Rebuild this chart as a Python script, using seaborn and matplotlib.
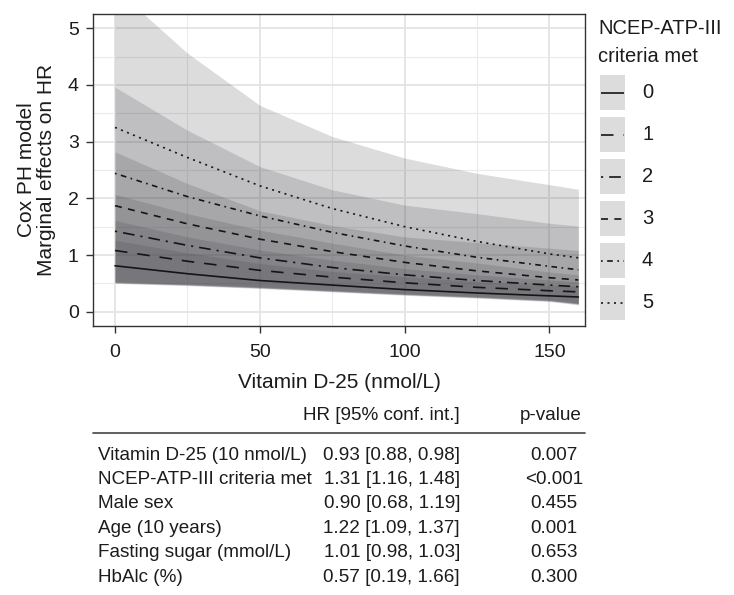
import numpy as np
import pandas as pd
import matplotlib
matplotlib.use("Agg")
import matplotlib.pyplot as plt
from matplotlib.ticker import MultipleLocator
from matplotlib.patches import Rectangle
import seaborn as sns

# ---------------- data ----------------
vitd = [0, 25, 50, 75, 100, 125, 150, 160]
groups = ["0", "1", "2", "3", "4", "5"]

hr_0 = [0.81, 0.67, 0.55, 0.47, 0.39, 0.33, 0.28, 0.26]
hr_1 = [1.08, 0.89, 0.73, 0.61, 0.51, 0.43, 0.37, 0.35]
hr_2 = [1.42, 1.17, 0.95, 0.78, 0.65, 0.55, 0.47, 0.44]
hr_3 = [1.87, 1.55, 1.28, 1.06, 0.87, 0.72, 0.60, 0.56]
hr_4 = [2.44, 2.03, 1.69, 1.40, 1.16, 0.96, 0.80, 0.74]
hr_5 = [3.25, 2.72, 2.22, 1.82, 1.50, 1.24, 1.02, 0.95]

up_0 = [1.26, 1.04, 0.85, 0.71, 0.62, 0.53, 0.47, 0.45]
up_1 = [1.61, 1.32, 1.09, 0.91, 0.76, 0.65, 0.56, 0.53]
up_2 = [2.07, 1.73, 1.44, 1.21, 1.00, 0.86, 0.70, 0.65]
up_3 = [2.82, 2.26, 1.78, 1.52, 1.32, 1.22, 1.12, 1.08]
up_4 = [3.96, 3.20, 2.56, 2.15, 1.88, 1.73, 1.56, 1.51]
up_5 = [5.70, 4.56, 3.64, 3.09, 2.71, 2.44, 2.24, 2.16]

lo_0 = [0.50, 0.46, 0.41, 0.35, 0.29, 0.24, 0.18, 0.12]
lo_1 = [0.51, 0.47, 0.42, 0.36, 0.30, 0.25, 0.19, 0.13]
lo_2 = [0.51, 0.47, 0.42, 0.36, 0.30, 0.25, 0.19, 0.14]
lo_3 = [0.52, 0.48, 0.43, 0.37, 0.31, 0.26, 0.20, 0.14]
lo_4 = [0.52, 0.48, 0.43, 0.37, 0.31, 0.26, 0.20, 0.15]
lo_5 = [0.53, 0.49, 0.44, 0.38, 0.32, 0.27, 0.21, 0.15]

x_ticks = [0, 50, 100, 150]
y_ticks = [0, 1, 2, 3, 4, 5]
x_label = "Vitamin D-25 (nmol/L)"
y_label_1 = "Cox PH model"
y_label_2 = "Marginal effects on HR"
legend_title_1 = "NCEP-ATP-III"
legend_title_2 = "criteria met"

table_header_hr = "HR [95% conf. int.]"
table_header_p = "p-value"
table_labels = ["Vitamin D-25 (10 nmol/L)", "NCEP-ATP-III criteria met", "Male sex",
                "Age (10 years)", "Fasting sugar (mmol/L)", "HbAlc (%)"]
table_hr = ["0.93 [0.88, 0.98]", "1.31 [1.16, 1.48]", "0.90 [0.68, 1.19]",
            "1.22 [1.09, 1.37]", "1.01 [0.98, 1.03]", "0.57 [0.19, 1.66]"]
table_p = ["0.007", "<0.001", "0.455", "0.001", "0.653", "0.300"]

hr_all = [hr_0, hr_1, hr_2, hr_3, hr_4, hr_5]
up_all = [up_0, up_1, up_2, up_3, up_4, up_5]
lo_all = [lo_0, lo_1, lo_2, lo_3, lo_4, lo_5]

# ---------------- style ----------------
sns.set_theme(style="white")
plt.rcParams["font.family"] = ["Liberation Sans", "DejaVu Sans"]

W, H = 734, 595
fig = plt.figure(figsize=(W / 100, H / 100), dpi=100)
fig.patch.set_facecolor("white")


def fx(px):
    return px / W


def fy(py):
    return 1 - py / H


ax_l, ax_r, ax_t, ax_b = 93.3, 585.0, 14.0, 325.9
ax = fig.add_axes([fx(ax_l), fy(ax_b), (ax_r - ax_l) / W, (ax_b - ax_t) / H])

fill_col = "#3e3e44"
line_col = "#151515"
band_alpha = 0.18
text_col = "#1c1c1c"

for lo, up in zip(lo_all, up_all):
    ax.fill_between(vitd, lo, up, color=fill_col, alpha=band_alpha, lw=0, zorder=2)

df = pd.DataFrame({
    "vitd": np.tile(vitd, len(groups)),
    "hr": np.concatenate([np.asarray(h) for h in hr_all]),
    "group": np.repeat(groups, len(vitd)),
})
lw = 1.2
dash_map = {"0": "", "1": (7.5, 6.0), "2": (1.3, 3.6, 7.0, 3.6), "3": (4.2, 3.8),
            "4": (1.0, 2.7, 3.4, 2.7), "5": (1.2, 2.7)}
sns.lineplot(data=df, x="vitd", y="hr", style="group", style_order=groups,
             dashes=dash_map, color=line_col, lw=lw, legend=False,
             errorbar=None, ax=ax, zorder=3)

ax.set_xlim(-7.5, 162.3)
ax.set_ylim(-0.25, 5.25)
ax.set_xticks(x_ticks)
ax.set_yticks(y_ticks)
ax.xaxis.set_minor_locator(MultipleLocator(25))
ax.yaxis.set_minor_locator(MultipleLocator(0.5))
ax.grid(which="major", color="#E4E4E4", lw=1.3)
ax.grid(which="minor", color="#EBEBEB", lw=0.8)
ax.set_axisbelow(True)
ax.tick_params(which="major", direction="out", length=5, width=1.0, color="#333333",
               labelsize=14, labelcolor=text_col, bottom=True, left=True)
ax.tick_params(axis="x", which="major", pad=8)
ax.tick_params(axis="y", which="major", pad=5.5)
ax.tick_params(which="minor", length=0)
for s in ax.spines.values():
    s.set_visible(True)
    s.set_color("#333333")
    s.set_linewidth(1.0)
ax.set_xlabel("")
ax.set_ylabel("")

fig.text(fx(339), fy(383), x_label, ha="center", va="center", fontsize=15, color=text_col)
fig.text(fx(27), fy(170), y_label_1, ha="center", va="center", rotation=90, fontsize=15, color=text_col)
fig.text(fx(47), fy(170), y_label_2, ha="center", va="center", rotation=90, fontsize=15, color=text_col)

# ---------------- overlay for legend and table ----------------
ov = fig.add_axes([0, 0, 1, 1])
ov.set_xlim(0, W)
ov.set_ylim(H, 0)
ov.axis("off")

ov.text(598, 28, legend_title_1, ha="left", va="center", fontsize=14.5, color=text_col)
ov.text(598, 56, legend_title_2, ha="left", va="center", fontsize=14.5, color=text_col)
for i, g in enumerate(groups):
    top = 75 + 42 * i
    ov.add_patch(Rectangle((600, top), 25, 35, facecolor=fill_col, alpha=band_alpha, lw=0))
    yc = top + 17.5
    if dash_map[g] == "":
        ov.plot([601, 624], [yc, yc], color=line_col, lw=lw, solid_capstyle="butt")
    else:
        ov.plot([601, 624], [yc, yc], color=line_col, lw=lw, dashes=dash_map[g])
    ov.text(642, yc, g, ha="left", va="center", fontsize=14.5, color=text_col)

fs_t = 13.6
ov.text(460, 415, table_header_hr, ha="right", va="center", fontsize=fs_t, color=text_col)
ov.text(551, 415, table_header_p, ha="center", va="center", fontsize=fs_t, color=text_col)
ov.plot([93, 585], [433, 433], color="#444444", lw=1.2)
for i, (lab, h, p) in enumerate(zip(table_labels, table_hr, table_p)):
    y = 455 + 24.4 * i
    ov.text(98, y, lab, ha="left", va="center", fontsize=fs_t, color=text_col)
    ov.text(460, y, h, ha="right", va="center", fontsize=fs_t, color=text_col)
    ov.text(554, y, p, ha="center", va="center", fontsize=fs_t, color=text_col)

fig.savefig("out.png", dpi=100)
